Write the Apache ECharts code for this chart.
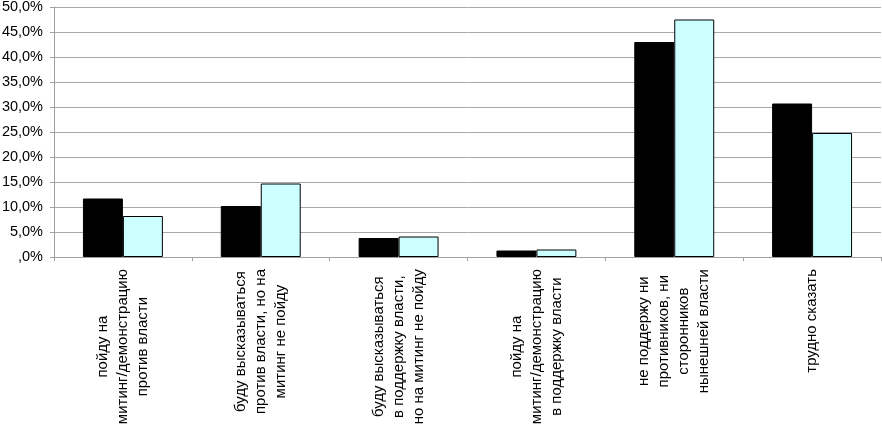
<!DOCTYPE html>
<html><head><meta charset="utf-8">
<script src="https://cdn.jsdelivr.net/npm/echarts@6/dist/echarts.min.js"></script>
<style>html,body{margin:0;padding:0;background:#fff}#c{width:882px;height:431px}</style>
</head><body><div id="c"></div>
<script>
const categories = [
  ['пойду на', 'митинг/демонстрацию', 'против власти'],
  ['буду высказываться', 'против власти, но на', 'митинг не пойду'],
  ['буду высказываться', 'в поддержку власти,', 'но на митинг не пойду'],
  ['пойду на', 'митинг/демонстрацию', 'в поддержку власти'],
  ['не поддержу ни', 'противников, ни', 'сторонников', 'нынешней власти'],
  ['трудно сказать']
];
const seriesA = [11.7, 10.2, 3.8, 1.3, 43.0, 30.7];
const seriesB = [8.2, 14.7, 4.1, 1.5, 47.5, 24.8];
const yMin = 0, yMax = 50, yStep = 5;

const chart = echarts.init(document.getElementById('c'), null, {renderer: 'canvas'});
const font = '"Liberation Sans", Arial, sans-serif';
chart.setOption({
  animation: false,
  grid: {left: 54, right: 1, top: 7, bottom: 174, containLabel: false, outerBoundsMode: 'none'},
  xAxis: {
    type: 'category',
    data: categories.map(l => l.join('\n')),
    axisLine: {lineStyle: {color: '#a0a0a0', width: 1}},
    axisTick: {show: true, length: 4, lineStyle: {color: '#a0a0a0'}},
    axisLabel: {
      rotate: 90, interval: 0, margin: 12,
      fontFamily: font, fontSize: 15, color: '#000', lineHeight: 20,
      formatter: v => v.split('\n').map(s => '{c|' + s + '}').join('\n'),
      rich: {c: {align: 'center', fontFamily: font, fontSize: 15, lineHeight: 20, color: '#000'}}
    }
  },
  yAxis: {
    type: 'value', min: yMin, max: yMax, interval: yStep,
    axisLine: {show: true, lineStyle: {color: '#a0a0a0', width: 1}},
    axisTick: {show: true, length: 4, lineStyle: {color: '#a0a0a0'}},
    splitLine: {lineStyle: {color: '#a8a8a8', width: 1}},
    axisLabel: {
      margin: 11, fontFamily: font, fontSize: 14.5, color: '#000',
      formatter: v => (v === 0 ? '' : v.toFixed(1).split('.')[0]) + ',' + v.toFixed(1).split('.')[1] + '%'
    }
  },
  series: [
    {type: 'bar', data: seriesA, barGap: '0%', barCategoryGap: '42%',
     itemStyle: {color: '#000', borderColor: '#000', borderWidth: 1}},
    {type: 'bar', data: seriesB, barGap: '0%', barCategoryGap: '42%',
     itemStyle: {color: '#ccffff', borderColor: '#000', borderWidth: 1}}
  ]
});
</script></body></html>
